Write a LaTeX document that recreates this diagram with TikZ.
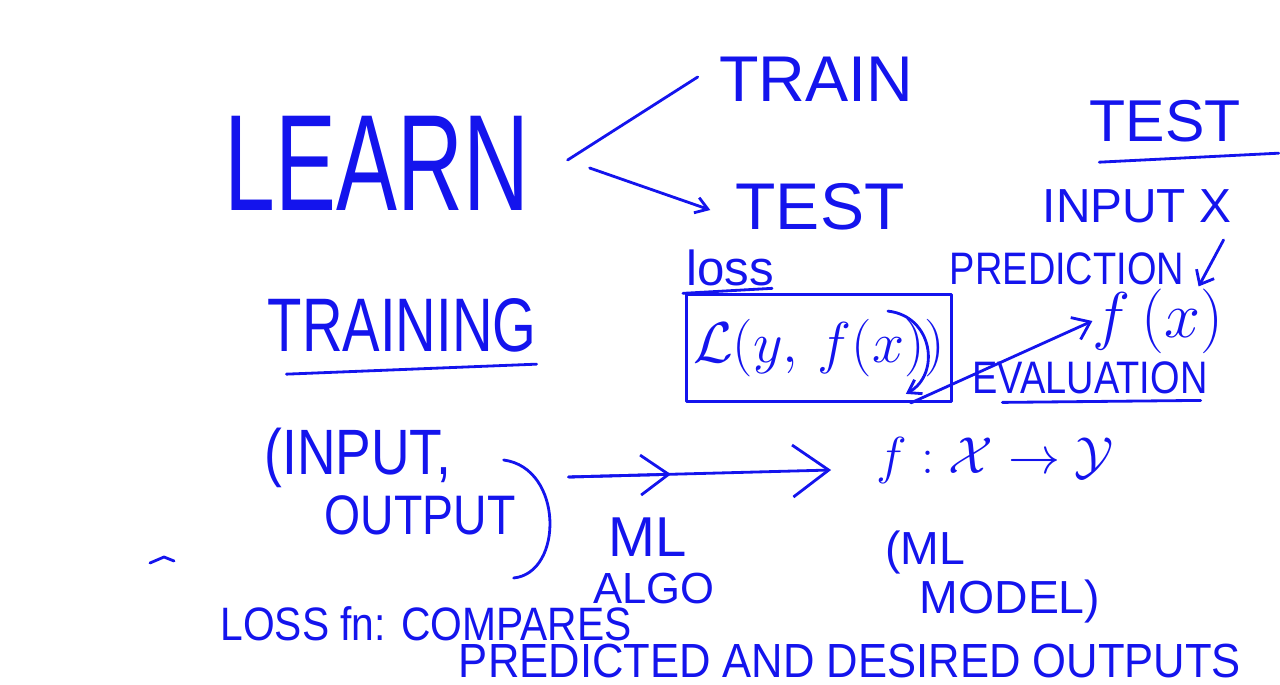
\RequirePackage{fix-cm}
\documentclass[tikz,border=0pt]{standalone}
\usepackage{fontspec}
\setsansfont{Liberation Sans}
\usetikzlibrary{arrows.meta, calc}
\definecolor{PenBlue}{rgb}{0.08, 0.08, 0.93}
\newcommand{\vstretch}[2]{\scalebox{1}[#1]{#2}}

\begin{document}
\begin{tikzpicture}[
    x=0.25mm, y=-0.25mm,
    font=\sffamily,
    hand/.style={text=PenBlue, inner sep=0pt, anchor=center},
    pen/.style={draw=PenBlue, line width=2pt, line cap=round, line join=round},
    flow/.style={pen, -{Straight Barb[length=4mm, width=6mm]}},
]
\useasboundingbox (0,0) rectangle (1280,685);

% learn -> train / test
\node[hand, font=\sffamily\fontsize{65}{65}\selectfont] (learn) at (377,163) {\vstretch{1.5}{LEARN}};
\node[hand, font=\sffamily\fontsize{46}{46}\selectfont] (train) at (816,79) {TRAIN};
\node[hand, font=\sffamily\fontsize{47}{47}\selectfont] (test) at (820,207) {TEST};
\coordinate (fork) at ($(learn.east)+(38,-3)$);
\draw[pen] (fork) -- ($(train.west)+(-21,-2)$);
\draw[pen, -{Straight Barb[length=3mm, width=4mm]}] ($(fork)+(22,8)$) -- ($(test.west)+(-25,3)$);

% test side
\node[hand, font=\sffamily\fontsize{42}{42}\selectfont] (testtop) at (1165,121) {TEST};
\draw[pen] ($(testtop.south west)+(10,20)$) -- ($(testtop.south east)+(38,11)$);
\node[hand, font=\sffamily\fontsize{34}{34}\selectfont] (inputx) at (1137,206) {INPUT X};
\node[hand, font=\sffamily\fontsize{27}{27}\selectfont] (pred) at (1067,269) {\vstretch{1.2}{PREDICTION}};
\node[hand, font=\fontsize{46}{46}\selectfont] (fx) at (1158,321) {$f\,(x)$};
\draw[pen, -{Straight Barb[length=3mm, width=5mm]}] ($(inputx.south east)+(-8,17)$) -- ($(fx.north east)+(-25,-2)$);

% loss box
\node[hand, font=\sffamily\fontsize{35}{35}\selectfont] (loss) at (730,268) {loss};
\draw[pen] ($(loss.south west)+(-3,7)$) -- ($(loss.south east)+(-2,2)$);
\node[hand, pen, minimum width=66.25mm, minimum height=26.75mm,
      font=\fontsize{41}{41}\selectfont] (lossbox) at (819,348) {$\mathcal{L}(y,\,f(x))$};
\draw[pen, -{Straight Barb[length=3mm, width=4mm]}] ($(lossbox.north east)+(-65,18)$)
    .. controls +(45,5) and +(35,-20) .. ($(lossbox.south east)+(-47,-9)$);
\draw[flow] ($(lossbox.south east)+(-42,0)$) -- (fx.west);

\node[hand, font=\sffamily\fontsize{27}{27}\selectfont] (eval) at (1090,378) {\vstretch{1.2}{EVALUATION}};
\draw[pen] ($(eval.south west)+(30,8)$) -- ($(eval.south east)+(-7,6)$);

% training
\node[hand, font=\sffamily\fontsize{40}{40}\selectfont] (training) at (402,325) {\vstretch{1.35}{TRAINING}};
\draw[pen] ($(training.south west)+(19,22)$) -- ($(training.south east)+(0,12)$);

\node[hand, font=\sffamily\fontsize{38}{38}\selectfont] (input) at (358,458) {\vstretch{1.2}{(INPUT,}};
\node[hand, font=\sffamily\fontsize{33}{33}\selectfont] (output) at (420,515) {\vstretch{1.2}{OUTPUT}};
\draw[pen] ($(output.east)+(-12,-55)$) .. controls +(60,8) and +(50,-5) .. ($(output.east)+(-2,63)$);

% ml algo -> ml model
\node[hand, font=\fontsize{37}{37}\selectfont] (fmap) at (995,460) {$f:\mathcal{X}\to\mathcal{Y}$};
\coordinate (pair) at ($(output.east)+(53,-38)$);
\draw[pen, -{Straight Barb[length=9mm, width=13mm]}] (pair) -- ($(fmap.west)+(-45,10)$);
\draw[pen, -{Straight Barb[length=7mm, width=10mm]}] (pair) -- ($(pair)!0.39!($(fmap.west)+(-45,10)$)$);

\node[hand, font=\sffamily\fontsize{40}{40}\selectfont] (ml) at (648,537) {ML};
\node[hand, font=\sffamily\fontsize{31}{31}\selectfont] (algo) at (654,588) {ALGO};

\node[hand, font=\sffamily\fontsize{33}{33}\selectfont] (mlm) at (925,552) {(ML};
\node[hand, font=\sffamily\fontsize{33}{33}\selectfont] (model) at (1010,601) {MODEL)};

% loss function
\node[hand, font=\sffamily\fontsize{29}{29}\selectfont] (lossfn) at (426,624) {\vstretch{1.15}{LOSS fn: COMPARES}};
\node[hand, font=\sffamily\fontsize{31}{31}\selectfont] (predout) at (850,661) {\vstretch{1.1}{PREDICTED AND DESIRED OUTPUTS}};

% stray mark
\draw[pen] (150,563) -- (164,557) -- (174,561);

\end{tikzpicture}
\end{document}
